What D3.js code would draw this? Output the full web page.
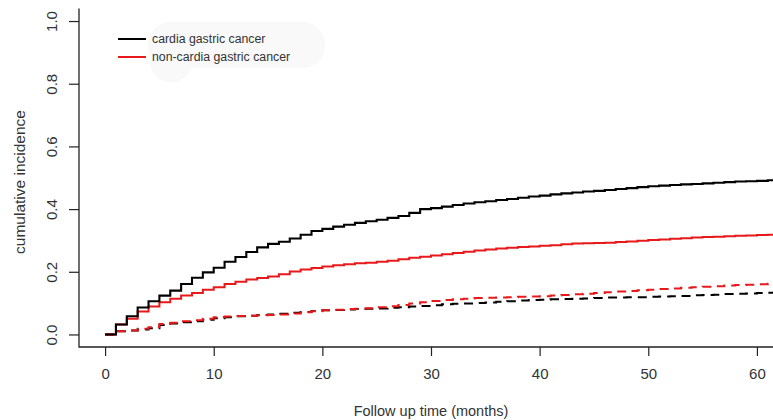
<!DOCTYPE html>
<html>
<head>
<meta charset="utf-8">
<script src="https://cdn.jsdelivr.net/npm/d3@7"></script>
<style>
  html, body { margin: 0; padding: 0; background: #fff; }
  svg { display: block; }
  text { font-family: "Liberation Sans", Arial, sans-serif; fill: #333; }
</style>
</head>
<body>
<svg id="chart" width="773" height="420"></svg>
<script>
// ---- data ----
const months = d3.range(0, 63);
const cardiaSolid = [0,0.032,0.058,0.086,0.106,0.124,0.140,0.161,0.181,0.198,0.213,0.232,0.247,0.263,0.278,0.289,0.296,0.306,0.318,0.330,0.337,0.344,0.350,0.356,0.361,0.366,0.372,0.378,0.388,0.400,0.403,0.408,0.413,0.418,0.422,0.425,0.429,0.432,0.436,0.440,0.443,0.447,0.450,0.453,0.456,0.458,0.461,0.464,0.467,0.470,0.473,0.475,0.477,0.479,0.480,0.482,0.484,0.486,0.488,0.489,0.490,0.492,0.493];
const nonCardiaSolid = [0,0.032,0.050,0.073,0.089,0.103,0.114,0.124,0.132,0.143,0.151,0.161,0.168,0.175,0.180,0.185,0.192,0.201,0.207,0.212,0.217,0.221,0.224,0.227,0.229,0.232,0.235,0.240,0.245,0.248,0.252,0.256,0.260,0.264,0.268,0.271,0.274,0.277,0.279,0.281,0.283,0.285,0.288,0.290,0.291,0.292,0.293,0.295,0.297,0.299,0.301,0.303,0.305,0.307,0.309,0.311,0.312,0.313,0.315,0.316,0.317,0.318,0.319];
const nonCardiaDashed = [0,0.010,0.013,0.018,0.023,0.033,0.037,0.042,0.045,0.050,0.055,0.057,0.059,0.060,0.061,0.062,0.064,0.067,0.071,0.074,0.077,0.079,0.081,0.082,0.084,0.087,0.090,0.094,0.099,0.103,0.107,0.110,0.112,0.114,0.116,0.117,0.118,0.119,0.120,0.121,0.122,0.124,0.126,0.128,0.130,0.132,0.135,0.137,0.139,0.141,0.143,0.145,0.147,0.149,0.151,0.152,0.154,0.156,0.158,0.159,0.160,0.162,0.163];
const cardiaDashed = [0,0.010,0.013,0.016,0.020,0.030,0.035,0.039,0.042,0.047,0.052,0.055,0.058,0.060,0.062,0.064,0.066,0.069,0.072,0.075,0.077,0.078,0.080,0.081,0.082,0.083,0.085,0.087,0.089,0.091,0.093,0.096,0.098,0.099,0.100,0.102,0.104,0.106,0.108,0.110,0.111,0.112,0.113,0.114,0.115,0.116,0.118,0.118,0.119,0.119,0.120,0.121,0.122,0.123,0.125,0.126,0.127,0.129,0.130,0.131,0.132,0.133,0.134];
const xTicks = [0, 10, 20, 30, 40, 50, 60];
const yTicks = [0, 0.2, 0.4, 0.6, 0.8, 1.0];
const legendLabels = ["cardia gastric cancer", "non-cardia gastric cancer"];
const legendColors = ["#000000", "#e8191b"];

// ---- layout ----
const svg = d3.select("#chart");
const pLeft = 79, pRight = 783, pTop = 8.5, pBottom = 347;
const x = d3.scaleLinear().domain([-2.4, 62.4]).range([pLeft, pRight]);
const y = d3.scaleLinear().domain([-0.04, 1.04]).range([pBottom, pTop]);

// faint legend backdrop
svg.append("rect").attr("x", 148).attr("y", 22).attr("width", 177).attr("height", 46)
  .attr("rx", 22).attr("fill", "#f9f9f9");
svg.append("rect").attr("x", 150).attr("y", 40).attr("width", 42).attr("height", 42)
  .attr("rx", 20).attr("fill", "#f9f9f9");

// axes
const xAxis = d3.axisBottom(x).tickValues(xTicks).tickSize(9).tickPadding(12).tickFormat(d3.format("d"));
const gx = svg.append("g").attr("transform", `translate(0,${pBottom})`).call(xAxis);
gx.select(".domain").remove();
gx.selectAll("line").attr("stroke", "#222").attr("stroke-width", 1.2);
gx.selectAll("text").attr("font-size", 15).attr("fill", "#333")
  .attr("font-family", "Liberation Sans, Arial, sans-serif");

const yAxis = d3.axisLeft(y).tickValues(yTicks).tickSize(10).tickFormat(d3.format(".1f"));
const gy = svg.append("g").attr("transform", `translate(${pLeft},0)`).call(yAxis);
gy.select(".domain").remove();
gy.selectAll("line").attr("stroke", "#222").attr("stroke-width", 1.2);
gy.selectAll("text")
  .attr("font-size", 15).attr("fill", "#333")
  .attr("font-family", "Liberation Sans, Arial, sans-serif")
  .attr("text-anchor", "middle").attr("dy", null)
  .attr("x", null)
  .attr("transform", "translate(-27.5,0) rotate(-90)")
  .attr("dominant-baseline", "central");

// L-shaped frame
svg.append("path")
  .attr("d", `M${pLeft},${pTop}V${pBottom}H773`)
  .attr("fill", "none").attr("stroke", "#222").attr("stroke-width", 1.3);

// lines
const line = d3.line().x(d => x(d[0])).y(d => y(d[1])).curve(d3.curveStepAfter);
const series = [
  { vals: cardiaDashed, color: legendColors[0], dash: "9,6", w: 2 },
  { vals: nonCardiaDashed, color: legendColors[1], dash: "9,6", w: 2 },
  { vals: nonCardiaSolid, color: legendColors[1], dash: null, w: 2 },
  { vals: cardiaSolid, color: legendColors[0], dash: null, w: 2.1 }
];
svg.append("clipPath").attr("id", "clip").append("rect")
  .attr("x", pLeft).attr("y", pTop).attr("width", pRight - pLeft).attr("height", pBottom - pTop);
series.forEach(s => {
  svg.append("path")
    .datum(months.map((m, i) => [m, s.vals[i]]))
    .attr("d", line)
    .attr("fill", "none")
    .attr("stroke", s.color)
    .attr("stroke-width", s.w)
    .attr("stroke-dasharray", s.dash)
    .attr("clip-path", "url(#clip)");
});

// legend
const lg = svg.append("g");
legendLabels.forEach((lab, i) => {
  const yy = 39 + i * 18;
  lg.append("line").attr("x1", 118).attr("x2", 146).attr("y1", yy).attr("y2", yy)
    .attr("stroke", legendColors[i]).attr("stroke-width", 2);
  lg.append("text").attr("x", 152).attr("y", yy).attr("dominant-baseline", "central")
    .attr("font-size", 12.3).text(lab);
});

// axis titles
svg.append("text").attr("x", 431).attr("y", 416).attr("text-anchor", "middle")
  .attr("font-size", 14.5).text("Follow up time (months)");
svg.append("text").attr("transform", "translate(19,182) rotate(-90)")
  .attr("text-anchor", "middle").attr("dominant-baseline", "central")
  .attr("font-size", 15.5).text("cumulative incidence");
</script>
</body>
</html>
